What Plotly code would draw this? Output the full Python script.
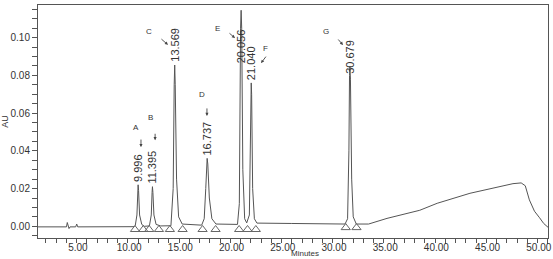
import plotly.graph_objects as go

# ---- data ----
trace_time = [0.2, 3.0, 3.08, 3.15, 3.25, 3.35, 3.9, 4.0, 4.1, 9.6,
              9.72, 9.88, 9.96, 9.996, 10.04, 10.14, 10.35, 10.6,
              11.1, 11.28, 11.36, 11.395, 11.44, 11.54, 11.75, 12.2,
              13.2, 13.42, 13.52, 13.569, 13.62, 13.75, 13.95, 14.3, 16.2,
              16.45, 16.6, 16.69, 16.737, 16.8, 16.95, 17.2, 17.6, 19.7,
              19.88, 20.0, 20.056, 20.11, 20.22, 20.4, 20.6,
              20.86, 20.96, 21.0, 21.04, 21.08, 21.18, 21.35, 21.6, 25.0, 30.2,
              30.45, 30.58, 30.64, 30.679, 30.73, 30.85, 31.0, 31.3, 32.5,
              34.3, 37.5, 39.2, 42.4, 44.6, 46.6, 47.4, 47.8, 48.2, 48.7, 49.2, 49.6, 50.02]
trace_au = [-0.0003, -0.0003, 0.002, 0.0005, -0.0012, -0.0003, -0.0003, 0.0012, -0.0003, -0.0002,
            0.0005, 0.006, 0.019, 0.022, 0.019, 0.006, 0.001, 0.0,
            0.0002, 0.006, 0.018, 0.021, 0.018, 0.006, 0.001, 0.0002,
            0.0003, 0.02, 0.075, 0.0855, 0.075, 0.025, 0.005, 0.0012, 0.0006,
            0.004, 0.02, 0.034, 0.036, 0.033, 0.015, 0.004, 0.0012, 0.001,
            0.012, 0.105, 0.1145, 0.105, 0.03, 0.004, 0.0018,
            0.006, 0.045, 0.072, 0.076, 0.07, 0.02, 0.004, 0.0017, 0.0015, 0.0012,
            0.004, 0.04, 0.08, 0.0845, 0.078, 0.025, 0.005, 0.0012, 0.0012,
            0.0042, 0.0085, 0.0122, 0.0175, 0.0202, 0.0226, 0.023, 0.0215, 0.014, 0.008, 0.0045, 0.0015, -0.0005]

peak_times = [9.996, 11.395, 13.569, 16.737, 20.056, 21.040, 30.679]
peak_heights = [0.022, 0.021, 0.0855, 0.036, 0.1145, 0.076, 0.0845]
peak_labels = ["9.996", "11.395", "13.569", "16.737", "20.056", "21.040", "30.679"]
peak_names = ["A", "B", "C", "D", "E", "F", "G"]

mark_times = [9.69, 10.5, 11.08, 12.03, 13.1, 14.34, 16.29, 17.56, 19.86, 20.68, 21.49, 30.27, 31.32]
mark_base = [0.0, 0.0, 0.0, 0.0, 0.0, 0.0, 0.0, 0.0, 0.0, 0.0, 0.0, 0.001, 0.001]

# ---- figure ----
TXT = "#333333"
FONT = "Arial, Liberation Sans"
fig = go.Figure()
fig.add_trace(go.Scatter(x=trace_time, y=trace_au, mode="lines",
                         line=dict(color="#555555", width=1), showlegend=False))
fig.add_trace(go.Scatter(x=mark_times, y=[b - 0.0017 for b in mark_base], mode="markers",
                         marker=dict(symbol="triangle-up-open", size=8, color="#666666",
                                     line=dict(width=1)), showlegend=False))

label_y = list(peak_heights)
label_y[4] = 0.0854  # E label sits below the clipped apex
label_shift = [1, 1, 1, 1, 0, 1, -9]
for t, y, lab, ys in zip(peak_times, label_y, peak_labels, label_shift):
    fig.add_annotation(x=t, y=y, text=lab, textangle=-90, showarrow=False,
                       xanchor="center", yanchor="bottom", yshift=ys,
                       font=dict(family=FONT, size=11, color=TXT))

# letter and arrow placement (offsets from peaks)
letter_dx = [-0.2, -0.15, -2.5, -0.5, -2.35, 1.43, -2.35]
letter_y = [0.0525, 0.0578, 0.103, 0.070, 0.105, 0.094, 0.103]
tip_dx = [0.28, 0.26, -0.66, -0.02, -0.6, 0.96, -0.68]
tip_y = [0.042, 0.0456, 0.0962, 0.0585, 0.0998, 0.0865, 0.0961]
tail_ax = [0, 0, -8, 0, -7, 6, -6]
tail_ay = [-9, -8, -7, -9, -6, -8, -7]
for t, n, ldx, ly, tdx, ty, ax, ay in zip(peak_times, peak_names, letter_dx, letter_y,
                                          tip_dx, tip_y, tail_ax, tail_ay):
    fig.add_annotation(x=t + ldx, y=ly, text=n, showarrow=False,
                       font=dict(family=FONT, size=8, color=TXT))
    fig.add_annotation(x=t + tdx, y=ty, text="", showarrow=True, ax=ax, ay=ay,
                       arrowhead=2, arrowsize=0.7, arrowwidth=0.9, arrowcolor="#444444",
                       standoff=0, startstandoff=0)

# x-axis title at the bottom edge, between tick labels
fig.add_annotation(xref="paper", yref="paper", x=0.523, y=-0.09, yanchor="bottom",
                   text="Minutes", showarrow=False, borderpad=0,
                   font=dict(family=FONT, size=8, color=TXT))

axis_common = dict(showgrid=False, zeroline=False, showline=True, linecolor="#555555",
                   linewidth=1, mirror=True, ticks="outside", tickcolor="#555555",
                   tickfont=dict(family=FONT, size=10, color=TXT))
fig.update_xaxes(range=[0.22, 50.02], tickvals=[5, 10, 15, 20, 25, 30, 35, 40, 45, 50],
                 ticktext=["5.00", "10.00", "15.00", "20.00", "25.00", "30.00", "35.00",
                           "40.00", "45.00", "50.00"],
                 ticklen=5, ticklabelshift=-9, ticklabelstandoff=-5,
                 minor=dict(dtick=1, tick0=0, ticks="outside", ticklen=4, tickcolor="#555555"),
                 **axis_common)
fig.update_yaxes(range=[-0.0062, 0.1173], tickvals=[0, 0.02, 0.04, 0.06, 0.08, 0.10],
                 ticktext=["0.00", "0.02", "0.04", "0.06", "0.08", "0.10"], ticklen=5,
                 minor=dict(dtick=0.005, tick0=0, ticks="outside", ticklen=5, tickcolor="#555555"),
                 title=dict(text="AU", standoff=6, font=dict(family=FONT, size=9, color=TXT)),
                 **axis_common)
fig.update_layout(width=553, height=259, margin=dict(l=38, r=5, t=5, b=21, autoexpand=False),
                  plot_bgcolor="white", paper_bgcolor="white")
fig.write_html("out.html")
